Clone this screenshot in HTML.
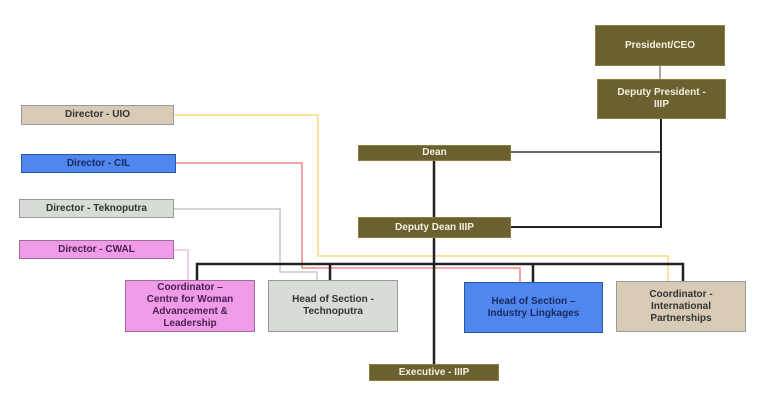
<!DOCTYPE html>
<html><head><style>
body{margin:0;width:768px;height:405px;background:#fff;position:relative;overflow:hidden;font-family:"Liberation Sans",sans-serif;}
.b{position:absolute;box-sizing:border-box;display:flex;align-items:center;justify-content:center;text-align:center;font-weight:bold;font-size:10px;line-height:12px;}
.o{background:#6b6130;color:#f4f0e0;border:1px solid #8a7e40;}
</style></head><body>
<svg width="768" height="405" style="position:absolute;left:0;top:0">
<g fill="none">
<polyline points="174,115 318,115 318,256 668,256 668,281" stroke="#f3dc80" stroke-width="1.5"/>
<polyline points="176,163 302,163 302,268 520,268 520,282" stroke="#e88888" stroke-width="1.5"/>
<polyline points="174,209 280,209 280,272 317,272 317,280" stroke="#c8c8c0" stroke-width="1.5"/>
<polyline points="174,250 188,250 188,280" stroke="#f0c0e0" stroke-width="1.5"/>
<line x1="660" y1="66" x2="660" y2="79" stroke="#888" stroke-width="1.5"/>
<polyline points="511,152 661,152" stroke="#333" stroke-width="1.5"/>
<polyline points="661,119 661,227 511,227" stroke="#222" stroke-width="2"/>
<line x1="434" y1="161" x2="434" y2="364" stroke="#222" stroke-width="2.5"/>
<polyline points="197,280 197,264 683,264 683,281" stroke="#222" stroke-width="2.5"/>
<line x1="330" y1="264" x2="330" y2="280" stroke="#222" stroke-width="2.5"/>
<line x1="533" y1="264" x2="533" y2="282" stroke="#222" stroke-width="2.5"/>
</g></svg>
<div class="b o" style="left:595px;top:25px;width:130px;height:41px">President/CEO</div>
<div class="b o" style="left:597px;top:79px;width:129px;height:40px">Deputy President -<br>IIIP</div>
<div class="b o" style="left:358px;top:145px;width:153px;height:16px">Dean</div>
<div class="b o" style="left:358px;top:217px;width:153px;height:21px">Deputy Dean IIIP</div>
<div class="b o" style="left:369px;top:364px;width:130px;height:17px">Executive - IIIP</div>
<div class="b" style="left:21px;top:105px;width:153px;height:20px;background:#d8cbb5;border:1px solid #999;color:#333">Director - UIO</div>
<div class="b" style="left:21px;top:154px;width:155px;height:19px;background:#4f87ee;border:1px solid #2a58a8;color:#1a2a60">Director - CIL</div>
<div class="b" style="left:19px;top:199px;width:155px;height:19px;background:#d8dcd6;border:1px solid #999;color:#333">Director - Teknoputra</div>
<div class="b" style="left:19px;top:240px;width:155px;height:19px;background:#f09be8;border:1px solid #a06a9a;color:#4a2050">Director - CWAL</div>
<div class="b" style="left:125px;top:280px;width:130px;height:52px;background:#f09be8;border:1px solid #a06a9a;color:#4a2050">Coordinator –<br>Centre for Woman<br>Advancement &amp;<br>Leadership</div>
<div class="b" style="left:268px;top:280px;width:130px;height:52px;background:#d8dcd6;border:1px solid #999;color:#333">Head of Section -<br>Technoputra</div>
<div class="b" style="left:464px;top:282px;width:139px;height:51px;background:#4f87ee;border:1px solid #2a58a8;color:#1a2a60">Head of Section –<br>Industry Lingkages</div>
<div class="b" style="left:616px;top:281px;width:130px;height:51px;background:#d8cbb5;border:1px solid #999;color:#333">Coordinator -<br>International<br>Partnerships</div>
</body></html>
